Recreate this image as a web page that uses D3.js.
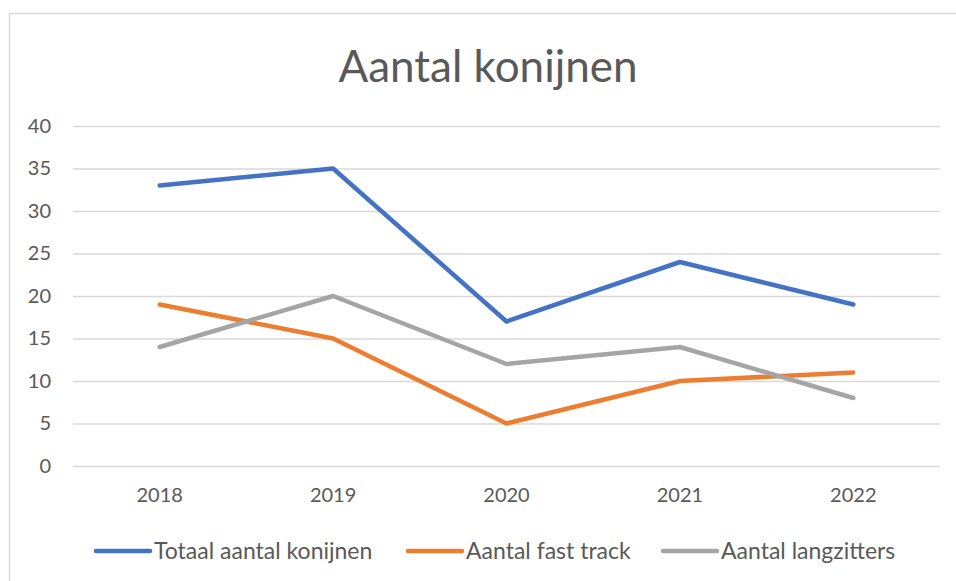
<!DOCTYPE html>
<html><head><meta charset="utf-8">
<script src="https://cdn.jsdelivr.net/npm/d3@7"></script>
<style>body{margin:0;background:#fff;font-family:Lato,"Open Sans",sans-serif;}</style>
</head><body>
<svg id="c" width="956" height="581"></svg>
<script>
const years = ["2018","2019","2020","2021","2022"];
const totaal = [33,35,17,24,19];
const fastTrack = [19,15,5,10,11];
const langzitters = [14,20,12,14,8];
const yTicks = [0,5,10,15,20,25,30,35,40];
const seriesNames = ["Totaal aantal konijnen","Aantal fast track","Aantal langzitters"];
const colors = ["#4472C4","#ED7D31","#A5A5A5"];
const series = [totaal, fastTrack, langzitters];

const svg = d3.select("#c");
const txt = "#595959";
const ff = "Lato,'Open Sans',sans-serif";
svg.append("rect").attr("x",9.5).attr("y",13.5).attr("width",1000).attr("height",700)
  .attr("fill","#fff").attr("stroke","#d9d9d9").attr("stroke-width",1.5);

const x = d3.scaleBand().domain(years).range([73,940]);
const y = d3.scaleLinear().domain([0,40]).range([466,126]);

svg.append("text").attr("x",488).attr("y",82).attr("text-anchor","middle")
  .attr("font-size",44).attr("fill",txt).text("Aantal konijnen");

const yAxis = svg.append("g").attr("transform","translate(73,0)")
  .call(d3.axisLeft(y).tickValues(yTicks).tickSize(-867).tickPadding(22));
yAxis.select(".domain").remove();
yAxis.selectAll(".tick line").attr("stroke","#d9d9d9").attr("stroke-width",1.5);
yAxis.selectAll(".tick text").attr("fill",txt).attr("font-size",20).attr("font-family",ff);

const xAxis = svg.append("g").attr("transform","translate(0,466)")
  .call(d3.axisBottom(x).tickSize(0).tickPadding(22));
xAxis.select(".domain").remove();
xAxis.selectAll(".tick text").attr("fill",txt).attr("font-size",20).attr("font-family",ff);

const line = d3.line().x((d,i)=>x(years[i])+x.bandwidth()/2).y(d=>y(d));
series.forEach((s,i)=>{
  svg.append("path").datum(s).attr("d",line).attr("fill","none")
    .attr("stroke",colors[i]).attr("stroke-width",4.5)
    .attr("stroke-linecap","round").attr("stroke-linejoin","round");
});

const legX = [96,408,663];
seriesNames.forEach((n,i)=>{
  const g = svg.append("g").attr("transform",`translate(${legX[i]},551)`);
  g.append("line").attr("x1",0).attr("x2",54).attr("y1",0).attr("y2",0)
    .attr("stroke",colors[i]).attr("stroke-width",4.5).attr("stroke-linecap","round");
  g.append("text").attr("x",58).attr("y",8).attr("font-size",23).attr("fill",txt).text(n);
});
</script>
</body></html>
